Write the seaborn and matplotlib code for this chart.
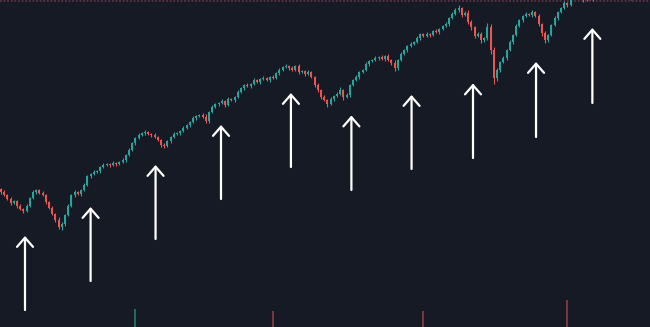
import numpy as np
import pandas as pd
import matplotlib
matplotlib.use("Agg")
import matplotlib.pyplot as plt
import seaborn as sns

# ---- data ----
first_open = 138
closes = [
    135, 132, 128, 124, 126, 121, 118, 116, 121, 129,
    135, 137, 134, 132, 125, 119, 113, 107, 100, 103,
    112, 121, 132, 135, 133, 137, 142, 151, 153, 155,
    156, 160, 162, 163, 162, 164, 163, 165, 167, 172,
    177, 184, 189, 192, 194, 195, 193, 192, 190, 187,
    182, 181, 186, 190, 193, 194, 196, 199, 202, 205,
    209, 211, 212, 210, 206, 215, 220, 223, 224, 226,
    222, 228, 227, 230, 235, 239, 242, 241, 243, 247,
    245, 248, 249, 247, 250, 249, 254, 257, 260, 261,
    259, 257, 261, 255, 256, 253, 255, 250, 242, 237,
    230, 227, 223, 228, 231, 233, 237, 230, 232, 242,
    247, 250, 255, 257, 263, 266, 267, 269, 270, 268,
    271, 267, 264, 259, 267, 273, 277, 281, 283, 285,
    289, 293, 291, 293, 292, 296, 295, 298, 301, 303,
    309, 313, 317, 319, 312, 314, 305, 300, 291, 293,
    287, 289, 300, 277, 249, 257, 265, 269, 277, 285,
    292, 301, 307, 311, 313, 312, 315, 311, 303, 294,
    287, 292, 302, 309, 315, 319, 324, 322, 331, 333,
    332, 329, 327, 330, 328, 333, 335, 334, 336, 337,
    335, 336, 338, 337, 335, 333, 331, 329, 332,
]
wick_up = [
    1, 2, 1, 2, 1, 1, 2, 1, 2, 1,
    2, 1, 1, 2, 1, 1, 2, 1, 3, 2,
    1, 2, 1, 2, 1, 1, 2, 1, 1, 2,
    1, 1, 2, 1, 1, 2, 1, 1, 2, 1,
    2, 1, 1, 2, 1, 2, 1, 1, 2, 1,
    1, 2, 1, 1, 2, 1, 1, 2, 1, 1,
    2, 1, 1, 2, 3, 1, 2, 1, 1, 2,
    1, 2, 1, 1, 2, 1, 1, 2, 1, 2,
    1, 1, 2, 1, 1, 2, 1, 2, 1, 2,
    1, 2, 1, 2, 1, 1, 2, 1, 1, 2,
    1, 2, 1, 2, 1, 2, 3, 1, 2, 1,
    1, 2, 1, 1, 2, 1, 1, 2, 1, 2,
    1, 2, 1, 3, 1, 2, 1, 1, 2, 1,
    2, 1, 1, 2, 1, 1, 2, 1, 1, 2,
    1, 2, 2, 3, 1, 2, 3, 2, 1, 2,
    2, 1, 4, 3, 3, 2, 1, 2, 1, 2,
    1, 2, 1, 1, 2, 1, 2, 1, 2, 1,
    2, 1, 1, 2, 1, 1, 2, 1, 1, 2,
    1, 2, 1, 1, 2, 1, 1, 2, 1, 1,
    2, 1, 1, 2, 1, 1, 2, 1, 2,
]
wick_dn = [
    2, 1, 1, 2, 1, 2, 1, 2, 1, 1,
    1, 2, 1, 1, 2, 1, 1, 2, 2, 3,
    2, 1, 1, 2, 1, 2, 1, 1, 2, 1,
    1, 2, 1, 1, 2, 1, 2, 1, 1, 2,
    1, 1, 2, 1, 1, 2, 1, 2, 1, 1,
    2, 2, 1, 2, 1, 1, 2, 1, 1, 2,
    1, 2, 1, 1, 2, 2, 1, 1, 2, 1,
    2, 1, 1, 2, 1, 1, 2, 1, 2, 1,
    1, 2, 1, 1, 2, 1, 1, 2, 1, 1,
    2, 1, 1, 2, 1, 2, 1, 1, 2, 2,
    2, 1, 3, 1, 2, 1, 1, 3, 1, 2,
    1, 1, 2, 1, 1, 2, 1, 1, 2, 1,
    2, 1, 2, 3, 2, 1, 1, 2, 1, 1,
    1, 2, 1, 1, 2, 1, 1, 2, 1, 1,
    2, 1, 1, 2, 2, 1, 2, 3, 2, 1,
    3, 2, 2, 4, 6, 3, 2, 1, 2, 1,
    2, 1, 1, 2, 1, 1, 2, 1, 2, 3,
    3, 2, 1, 1, 2, 1, 1, 2, 1, 1,
    2, 1, 2, 1, 1, 2, 1, 1, 2, 1,
    1, 2, 1, 1, 2, 1, 1, 2, 1,
]
# visible volume spikes (candle index, volume)
vol_idx = [42, 85, 132, 177]
vol_values = [5.4, 4.8, 4.8, 8.0]

# annotation arrows (candle index, tail price, tip price)
arrow_x = [7.5, 28.0, 48.3, 68.75, 90.6, 109.5, 128.3, 147.5, 167.2, 184.8]
arrow_tail = [17, 46, 88, 128, 160, 137, 158, 169, 190, 224]
arrow_tip = [91, 120, 162, 202, 234, 211.5, 232, 243.5, 265, 299]

last_line_price = 326

# ---- build frame ----
n = len(closes)
df = pd.DataFrame({"idx": np.arange(n), "close": closes})
df["open"] = [first_open] + closes[:-1]
df["top"] = df[["open", "close"]].max(axis=1)
df["bot"] = df[["open", "close"]].min(axis=1)
df["high"] = df["top"] + np.array(wick_up)
df["low"] = df["bot"] - np.array(wick_dn)
df["up"] = df["close"] >= df["open"]

UP = "#26a69a"
DN = "#ef5350"
BG = "#161a25"

sns.set_theme(style="dark", rc={"axes.facecolor": BG, "figure.facecolor": BG})

fig = plt.figure(figsize=(6.5, 3.27), dpi=100)
ax = fig.add_axes([0, 0, 1, 1])
ax.set_facecolor(BG)

colors = np.where(df["up"], UP, DN)
ax.vlines(df["idx"], df["low"], df["high"], colors=colors, linewidth=0.8, zorder=2)
ax.bar(df["idx"], (df["top"] - df["bot"]).clip(lower=0.6), bottom=df["bot"],
       width=0.62, color=colors, linewidth=0, zorder=3)

ax.axhline(last_line_price, color="#5a3345", linewidth=1.3, linestyle=(0, (1, 1)), zorder=1)

# volume pane
vax = ax.twinx()
vax.set_ylim(0, 98)
vcol = ["#1f6b63" if df["up"].iloc[i] else "#7a3638" for i in vol_idx]
vax.bar(vol_idx, vol_values, width=0.6, color=vcol, linewidth=0)
vax.axis("off")

for x, t0, t1 in zip(arrow_x, arrow_tail, arrow_tip):
    ax.annotate("", xy=(x, t1), xytext=(x, t0),
                arrowprops=dict(arrowstyle="->,head_length=0.55,head_width=0.48",
                                color="white", lw=1.6, shrinkA=0, shrinkB=0),
                zorder=5)

ax.set_xlim(-1 / 3.2, 649 / 3.2)
ax.set_ylim(0, 327)
vax.set_xlim(-1 / 3.2, 649 / 3.2)
ax.set_xticks([])
ax.set_yticks([])
for s in ax.spines.values():
    s.set_visible(False)
ax.grid(False)

fig.savefig("out.png", dpi=100, facecolor=BG)
